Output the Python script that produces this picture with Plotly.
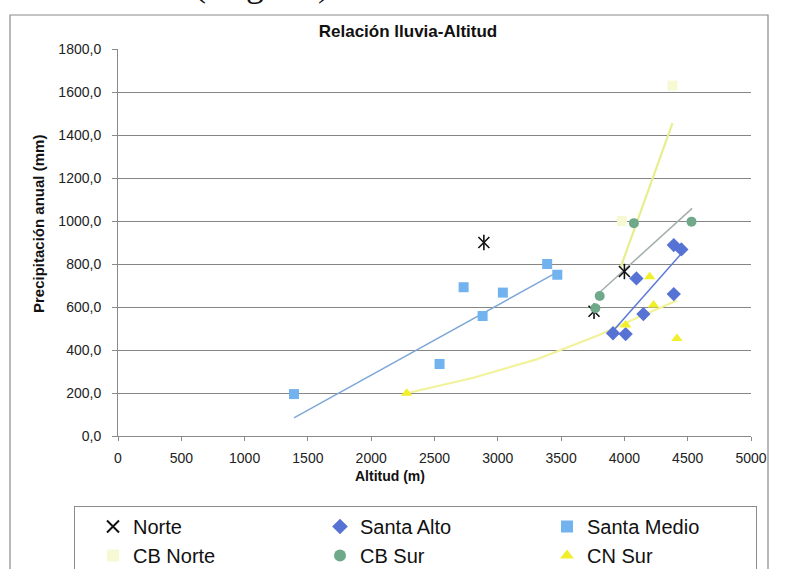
import plotly.graph_objects as go

# ---------------- data ----------------
norte_x = [2890, 4000, 3760]
norte_y = [900, 765, 580]

santa_alto_x = [4390, 4450, 4095, 4390, 4150, 3910, 4010]
santa_alto_y = [888, 868, 733, 660, 567, 478, 474]

santa_medio_x = [1390, 2540, 2730, 2880, 3040, 3390, 3470]
santa_medio_y = [195, 335, 692, 558, 667, 800, 750]

cb_norte_x = [3980, 4380]
cb_norte_y = [1000, 1630]

cb_sur_x = [4075, 4530, 3805, 3770]
cb_sur_y = [990, 997, 651, 594]

cn_sur_x = [2280, 4200, 4230, 4415, 4010]
cn_sur_y = [199, 741, 609, 454, 516]

# trend lines as drawn in the picture
trend_santa_medio_x = [1390, 3470]
trend_santa_medio_y = [84, 762]
trend_cn_sur_x = [2280, 2800, 3300, 3800, 4100, 4415]
trend_cn_sur_y = [199, 270, 355, 470, 550, 630]
trend_cb_norte_x = [3968, 4380]
trend_cb_norte_y = [781, 1455]
trend_cb_sur_x = [3797, 4535]
trend_cb_sur_y = [664, 1059]
trend_santa_alto_x = [3905, 4445]
trend_santa_alto_y = [485, 845]

x_ticks = [0, 500, 1000, 1500, 2000, 2500, 3000, 3500, 4000, 4500, 5000]
y_ticks = [0, 200, 400, 600, 800, 1000, 1200, 1400, 1600, 1800]
y_top = 1800

FONT = "Liberation Sans, Arial, sans-serif"

fig = go.Figure()

# trend lines
for tx, ty, col, w in [
    (trend_santa_medio_x, trend_santa_medio_y, "#7ea8d8", 1.5),
    (trend_cn_sur_x, trend_cn_sur_y, "#f2f29a", 2.2),
    (trend_cb_norte_x, trend_cb_norte_y, "#e6ee8e", 2.2),
    (trend_cb_sur_x, trend_cb_sur_y, "#a4aeaa", 1.5),
    (trend_santa_alto_x, trend_santa_alto_y, "#5b78d6", 1.5),
]:
    fig.add_trace(go.Scatter(x=tx, y=ty, mode="lines", line=dict(color=col, width=w),
                             showlegend=False, hoverinfo="skip"))

# markers
fig.add_trace(go.Scatter(x=norte_x, y=norte_y, mode="markers", name="Norte",
                         marker=dict(symbol="x-thin-open", size=11, color="#111111",
                                     line=dict(color="#111111", width=1.6))))
fig.add_trace(go.Scatter(x=norte_x, y=norte_y, mode="markers", showlegend=False,
                         marker=dict(symbol="line-ns-open", size=11, color="#111111",
                                     line=dict(color="#111111", width=1.6))))
fig.add_trace(go.Scatter(x=santa_alto_x, y=santa_alto_y, mode="markers", name="Santa Alto",
                         marker=dict(symbol="diamond", size=11, color="#5672d4")))
fig.add_trace(go.Scatter(x=santa_medio_x, y=santa_medio_y, mode="markers", name="Santa Medio",
                         marker=dict(symbol="square", size=10, color="#72b2ee")))
fig.add_trace(go.Scatter(x=cb_norte_x, y=cb_norte_y, mode="markers", name="CB Norte",
                         marker=dict(symbol="square", size=10, color="#f7f8d4")))
fig.add_trace(go.Scatter(x=cb_sur_x, y=cb_sur_y, mode="markers", name="CB Sur",
                         marker=dict(symbol="circle", size=10, color="#6fa98a")))
fig.add_trace(go.Scatter(x=cn_sur_x, y=cn_sur_y, mode="markers", name="CN Sur",
                         marker=dict(symbol="triangle-up", size=10, color="#f0ef2a")))

PL, PR, PT, PB = 118, 751, 49, 436  # plot-area pixel box
def px(xp):
    return (xp - PL) / (PR - PL)
def py(yp):
    return (PB - yp) / (PB - PT)

fig.update_layout(
    width=790, height=569,
    margin=dict(l=PL, r=790 - PR, t=PT, b=569 - PB, autoexpand=False),
    paper_bgcolor="white", plot_bgcolor="white",
    separators=",.",
    font=dict(family=FONT, color="#222222"),
    title=dict(text="<b>Relación lluvia-Altitud</b>", x=408 / 790, xanchor="center",
               y=1 - 31 / 569, yanchor="middle", font=dict(size=17, color="#111111")),
    xaxis=dict(range=[0, 5000], tickvals=x_ticks, tickformat="d", showgrid=False,
               showline=True, linecolor="#8a8a8a", linewidth=1,
               ticks="outside", ticklen=4, tickcolor="#8a8a8a",
               ticklabelstandoff=5, tickfont=dict(size=14, color="#222222"),
               zeroline=False, fixedrange=True),
    yaxis=dict(range=[0, 1800], tickvals=y_ticks, tickformat=".1f", showgrid=True,
               gridcolor="#858585", gridwidth=1,
               showline=True, linecolor="#8a8a8a", linewidth=1,
               ticks="outside", ticklen=5, tickcolor="#8a8a8a",
               ticklabelstandoff=8, tickfont=dict(size=14, color="#222222"),
               zeroline=False, fixedrange=True),
    legend=dict(orientation="h", xref="paper", yref="paper",
                x=px(74), y=py(506), xanchor="left", yanchor="top",
                entrywidth=164, entrywidthmode="pixels", indentation=18,
                bordercolor="#8c8c8c", borderwidth=1, bgcolor="white",
                font=dict(size=20, color="#111111", family=FONT),
                traceorder="normal", itemsizing="constant"),
    showlegend=True,
    annotations=[
        dict(text="<b>Altitud (m)</b>", xref="paper", yref="paper", x=px(390), y=py(476),
             xanchor="center", yanchor="middle", showarrow=False,
             font=dict(size=14, color="#111111")),
        dict(text="<b>Precipitación anual (mm)</b>", xref="paper", yref="paper",
             x=px(38), y=py(224), xanchor="center", yanchor="middle", textangle=-90,
             showarrow=False, font=dict(size=15, color="#111111")),
        dict(text="(original)", xref="paper", yref="paper", x=px(262), y=py(-16),
             xanchor="center", yanchor="middle", showarrow=False,
             font=dict(size=36, color="#111111", family="Liberation Serif, Times New Roman, serif")),
    ],
    shapes=[
        dict(type="rect", xref="paper", yref="paper", x0=px(10), x1=px(768), y0=py(600), y1=py(15),
             line=dict(color="#8a8a8a", width=1.2), fillcolor="rgba(0,0,0,0)", layer="below"),
        # the top grid line is only faintly dotted in the picture
        dict(type="line", xref="paper", yref="y", x0=0.003, x1=1, y0=y_top, y1=y_top,
             line=dict(color="white", width=2, dash="28px,5px"), layer="above"),
    ],
)

fig.write_html("out.html")
